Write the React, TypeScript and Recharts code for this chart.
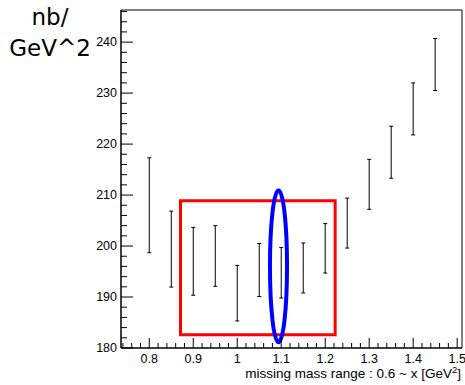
import { ScatterChart, Scatter, XAxis, YAxis, ErrorBar, ReferenceArea } from 'recharts';

// missing mass upper limit x [GeV^2]
const massPoints = [0.8, 0.85, 0.9, 0.95, 1.0, 1.05, 1.1, 1.15, 1.2, 1.25, 1.3, 1.35, 1.4, 1.45];
// cross section [nb/GeV^2] and its error
const crossSection = [208.0, 199.4, 197.0, 198.05, 190.75, 195.3, 194.75, 195.7, 199.55, 204.5, 212.1, 218.4, 226.9, 235.6];
const crossSectionErr = [9.3, 7.45, 6.65, 5.95, 5.45, 5.2, 4.95, 4.9, 4.85, 4.9, 4.9, 5.1, 5.1, 5.1];

const xDomain = [0.7357, 1.511];
const yDomain = [180, 246.3];

// ticks: minor every 0.02 / 2, labelled every 0.1 / 10
const xTicks: number[] = [];
for (let i = 37; i <= 75; i++) xTicks.push(i / 50);
const yTicks: number[] = [];
for (let v = 180; v <= 246; v += 2) yTicks.push(v);

// hand drawn marks on top of the plot
const boxX = [0.871, 1.2226];
const boxY = [182.6, 208.9];
const ovalX = [1.0744, 1.1132];
const ovalY = [181.14, 210.94];

const data = massPoints.map((x, i) => ({ x, y: crossSection[i], err: crossSectionErr[i] }));

const tickFont = '"Liberation Sans", Arial, sans-serif';

const XTick = (props: any) => {
  const { x, y, payload } = props;
  const v = payload.value;
  const major = Math.round(v * 100) % 10 === 0;
  return (
    <g>
      <line x1={x} y1={y} x2={x} y2={y - (major ? 10 : 5)} stroke="#000" />
      {major && (
        <text x={x} y={y + 15} textAnchor="middle" fontSize={12.5} fill="#000" fontFamily={tickFont}>
          {String(Math.round(v * 10) / 10)}
        </text>
      )}
    </g>
  );
};

const YTick = (props: any) => {
  const { x, y, payload } = props;
  const v = payload.value;
  const major = v % 10 === 0;
  return (
    <g>
      <line x1={x} y1={y} x2={x + (major ? 12 : 6)} y2={y} stroke="#000" />
      {major && (
        <text x={x - 4} y={y + 4.3} textAnchor="end" fontSize={12.5} fill="#000" fontFamily={tickFont}>
          {v}
        </text>
      )}
    </g>
  );
};

const YTitle = () => (
  <g fontFamily='"DejaVu Sans", sans-serif' fontSize={23} fill="#000">
    <text x={50} y={25} textAnchor="middle">nb/</text>
    <text x={50} y={56} textAnchor="middle">GeV^2</text>
  </g>
);

const XTitle = () => (
  <text x={461} y={378} textAnchor="end" fontSize={13.5} fill="#000" fontFamily={tickFont}>
    missing mass range : 0.6 ~ x [GeV<tspan dy={-5} fontSize={9.5}>2</tspan><tspan dy={5}>]</tspan>
  </text>
);

const Oval = (props: any) => {
  const { x, y, width, height } = props;
  return (
    <ellipse
      cx={x + width / 2}
      cy={y + height / 2}
      rx={width / 2}
      ry={height / 2}
      fill="none"
      stroke="#0000ff"
      strokeWidth={4}
    />
  );
};

export default function App() {
  return (
    <div style={{ position: 'absolute', left: 0, top: 0, background: '#fff' }}>
      <ScatterChart width={465} height={385} margin={{ top: 10, right: 3, bottom: 0, left: 0 }}>
        <XAxis
          type="number"
          dataKey="x"
          domain={xDomain}
          allowDataOverflow
          ticks={xTicks}
          interval={0}
          tick={<XTick />}
          tickLine={false}
          tickSize={0}
          tickMargin={0}
          height={37}
          axisLine={{ stroke: '#000' }}
          label={{ content: () => <XTitle /> }}
        />
        <YAxis
          type="number"
          dataKey="y"
          domain={yDomain}
          allowDataOverflow
          ticks={yTicks}
          interval={0}
          tick={<YTick />}
          tickLine={false}
          tickSize={0}
          tickMargin={0}
          width={121}
          axisLine={{ stroke: '#000' }}
          label={{ content: () => <YTitle /> }}
        />
        <ReferenceArea
          x1={xDomain[0]}
          x2={xDomain[1]}
          y1={yDomain[0]}
          y2={yDomain[1]}
          fill="none"
          stroke="#000"
          strokeWidth={1}
        />
        <Scatter data={data} isAnimationActive={false} shape={() => <g />}>
          <ErrorBar dataKey="err" direction="y" width={2} stroke="#000" strokeWidth={1} isAnimationActive={false} />
        </Scatter>
        <ReferenceArea
          x1={boxX[0]}
          x2={boxX[1]}
          y1={boxY[0]}
          y2={boxY[1]}
          fill="none"
          stroke="#ff0000"
          strokeWidth={3}
        />
        <ReferenceArea
          x1={ovalX[0]}
          x2={ovalX[1]}
          y1={ovalY[0]}
          y2={ovalY[1]}
          shape={<Oval />}
        />
      </ScatterChart>
    </div>
  );
}
